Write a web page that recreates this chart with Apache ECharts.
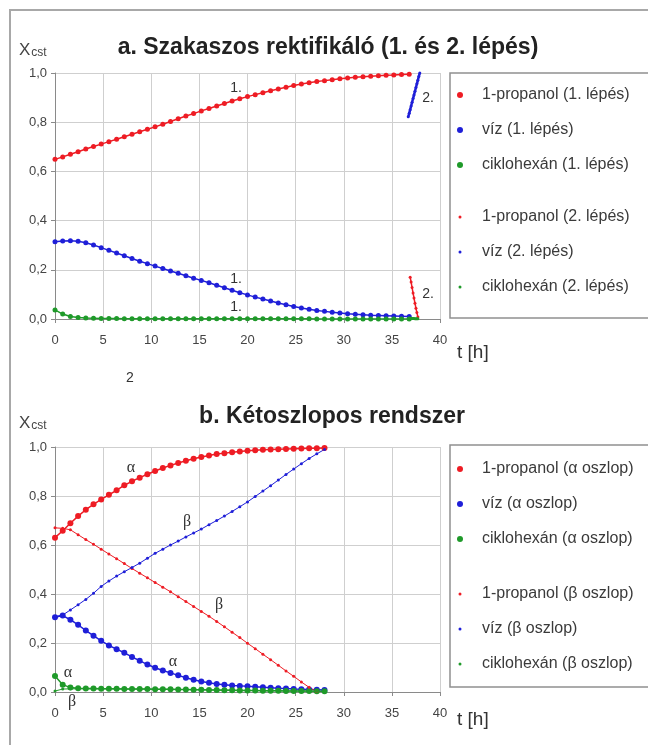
<!DOCTYPE html>
<html>
<head>
<meta charset="utf-8">
<script src="https://cdn.jsdelivr.net/npm/echarts@6/dist/echarts.min.js"></script>
<style>
html,body{margin:0;padding:0;background:#fff;}
#c{width:648px;height:745px;}
</style>
</head>
<body>
<div id="c"></div>
<script>
// ---------- data: chart a (Szakaszos rektifikáló) ----------
var tA1 = [0,0.8,1.6,2.4,3.2,4.0,4.8,5.6,6.4,7.2,8.0,8.8,9.6,10.4,11.2,12.0,12.8,13.6,14.4,15.2,16.0,16.8,17.6,18.4,19.2,20.0,20.8,21.6,22.4,23.2,24.0,24.8,25.6,26.4,27.2,28.0,28.8,29.6,30.4,31.2,32.0,32.8,33.6,34.4,35.2,36.0,36.8];
var propanolA1 = [0.649,0.659,0.670,0.680,0.691,0.701,0.711,0.721,0.731,0.741,0.751,0.761,0.771,0.781,0.792,0.803,0.814,0.825,0.835,0.846,0.856,0.866,0.876,0.886,0.895,0.904,0.912,0.920,0.928,0.935,0.942,0.949,0.955,0.960,0.965,0.969,0.973,0.977,0.980,0.983,0.985,0.987,0.989,0.991,0.992,0.994,0.995];
var vizA1 = [0.314,0.317,0.318,0.316,0.310,0.301,0.290,0.279,0.268,0.257,0.246,0.235,0.225,0.215,0.205,0.195,0.186,0.176,0.166,0.157,0.147,0.137,0.127,0.117,0.107,0.098,0.089,0.081,0.073,0.065,0.058,0.051,0.045,0.040,0.035,0.031,0.027,0.024,0.021,0.019,0.017,0.015,0.014,0.013,0.012,0.011,0.010];
var ciklohexanA1 = [0.037,0.020,0.010,0.006,0.004,0.003,0.002,0.002,0.002,0.001,0.001,0.001,0.001,0.001,0.001,0.001,0.001,0.001,0.001,0.001,0.001,0.001,0.001,0.001,0.001,0.001,0.001,0.001,0.001,0.001,0.001,0.001,0.001,0.001,0.000,0.000,0.000,0.000,0.000,0.000,0.000,0.000,0.000,0.000,0.000,0.000,0.000];
var tA2viz = [36.7,36.8,36.9,37.0,37.1,37.2,37.3,37.4,37.5,37.6,37.7,37.8,37.9];
var vizA2 = [0.822,0.836,0.851,0.866,0.881,0.896,0.911,0.926,0.941,0.956,0.971,0.986,1.000];
var tA2 = [36.9,37.0,37.1,37.2,37.3,37.4,37.5,37.6,37.7];
var propanolA2 = [0.170,0.150,0.128,0.106,0.085,0.064,0.044,0.026,0.008];
var ciklohexanA2 = [0.003,0.003,0.002,0.002,0.002,0.001,0.001,0.001,0.001];

// ---------- data: chart b (Kétoszlopos rendszer) ----------
var tB = [0,0.8,1.6,2.4,3.2,4.0,4.8,5.6,6.4,7.2,8.0,8.8,9.6,10.4,11.2,12.0,12.8,13.6,14.4,15.2,16.0,16.8,17.6,18.4,19.2,20.0,20.8,21.6,22.4,23.2,24.0,24.8,25.6,26.4,27.2,28.0];
var propanolAlfa = [0.630,0.658,0.689,0.718,0.744,0.766,0.786,0.805,0.823,0.844,0.860,0.875,0.889,0.902,0.914,0.925,0.935,0.944,0.952,0.959,0.965,0.971,0.975,0.979,0.982,0.985,0.987,0.989,0.990,0.991,0.992,0.993,0.994,0.995,0.995,0.996];
var vizAlfa = [0.305,0.312,0.295,0.274,0.251,0.230,0.209,0.190,0.175,0.160,0.143,0.128,0.112,0.099,0.088,0.078,0.068,0.058,0.050,0.043,0.038,0.033,0.030,0.027,0.025,0.023,0.021,0.019,0.017,0.015,0.014,0.012,0.011,0.010,0.009,0.008];
var ciklohexanAlfa = [0.065,0.030,0.018,0.015,0.014,0.014,0.013,0.013,0.013,0.012,0.012,0.012,0.012,0.011,0.011,0.011,0.010,0.010,0.009,0.009,0.008,0.008,0.007,0.007,0.006,0.006,0.006,0.005,0.005,0.005,0.004,0.004,0.004,0.004,0.003,0.003];
var propanolBeta = [0.670,0.668,0.662,0.642,0.622,0.603,0.583,0.563,0.544,0.524,0.504,0.485,0.466,0.447,0.428,0.409,0.389,0.369,0.349,0.329,0.309,0.288,0.266,0.244,0.222,0.199,0.177,0.154,0.132,0.109,0.086,0.064,0.041,0.019,0.002];
var vizBeta = [0.308,0.314,0.335,0.356,0.378,0.403,0.431,0.453,0.473,0.491,0.508,0.526,0.546,0.566,0.583,0.600,0.616,0.633,0.649,0.665,0.683,0.700,0.718,0.737,0.756,0.776,0.798,0.820,0.842,0.865,0.888,0.910,0.932,0.953,0.972,0.990];
var ciklohexanBeta = [0.004,0.012,0.013,0.013,0.013,0.013,0.013,0.013,0.012,0.012,0.012,0.012,0.012,0.011,0.011,0.011,0.010,0.010,0.010,0.009,0.009,0.008,0.008,0.007,0.007,0.006,0.006,0.005,0.005,0.005,0.004,0.004,0.004,0.003,0.003,0.003];

var yTicks = [0, 0.2, 0.4, 0.6, 0.8, 1.0];
var xTicks = [0, 5, 10, 15, 20, 25, 30, 35, 40];

var namesA1 = ['1-propanol (1. lépés)', 'víz (1. lépés)', 'ciklohexán (1. lépés)'];
var namesA2 = ['1-propanol (2. lépés)', 'víz (2. lépés)', 'ciklohexán (2. lépés)'];
var namesB1 = ['1-propanol (\u03b1 oszlop)', 'víz (\u03b1 oszlop)', 'ciklohexán (\u03b1 oszlop)'];
var namesB2 = ['1-propanol (\u03b2 oszlop)', 'víz (\u03b2 oszlop)', 'ciklohexán (\u03b2 oszlop)'];

// ---------- styling ----------
var RED = '#ee1c24', BLUE = '#1f1fd8', GREEN = '#1f9a2a';
var FONT = "'Liberation Sans', Arial, sans-serif";
var TXT = '#333';

function zip(t, v) {
  var out = [];
  for (var i = 0; i < Math.min(t.length, v.length); i++) out.push([t[i], v[i]]);
  return out;
}
function ser(name, idx, t, v, color, size, lw) {
  return {
    name: name, type: 'line', xAxisIndex: idx, yAxisIndex: idx,
    data: zip(t, v), symbol: 'circle', symbolSize: size, showSymbol: true,
    itemStyle: {color: color}, lineStyle: {color: color, width: lw},
    emphasis: {disabled: true}, animation: false
  };
}
function xAx(idx) {
  return {
    gridIndex: idx, type: 'value', min: 0, max: 40, interval: 5,
    axisLine: {show: true, onZero: false, lineStyle: {color: '#8a8a8a', width: 1}},
    axisTick: {show: true, length: 4, lineStyle: {color: '#8a8a8a'}},
    axisLabel: {color: '#444', fontSize: 13, fontFamily: FONT, margin: 15,
      formatter: function (v) { return xTicks.indexOf(v) >= 0 ? String(v) : ''; }},
    splitLine: {show: true, lineStyle: {color: '#cfcfcf', width: 1}}
  };
}
function yAx(idx) {
  return {
    gridIndex: idx, type: 'value', min: 0, max: 1, interval: 0.2,
    axisLine: {show: true, lineStyle: {color: '#8a8a8a', width: 1}},
    axisTick: {show: true, length: 4, lineStyle: {color: '#8a8a8a'}},
    axisLabel: {color: '#444', fontSize: 13, fontFamily: FONT, margin: 8,
      formatter: function (v) {
        for (var i = 0; i < yTicks.length; i++) if (Math.abs(yTicks[i] - v) < 1e-9) return yTicks[i].toFixed(1).replace('.', ',');
        return '';
      }},
    splitLine: {show: true, lineStyle: {color: '#cfcfcf', width: 1}}
  };
}
function leg(names, left, top, iconH) {
  return {
    data: names, orient: 'vertical', left: left, top: top, icon: 'circle',
    itemWidth: 34, itemHeight: iconH, itemGap: 17, selectedMode: false,
    textStyle: {color: '#3a3a3a', fontSize: 16, fontFamily: FONT, lineHeight: 18},
    padding: 0
  };
}
function txt(x, y, s, size, family, align) {
  return {type: 'text', x: x, y: y, z: 100,
    style: {text: s, fill: TXT, font: size + 'px ' + (family || FONT), textAlign: align || 'center', textVerticalAlign: 'middle'}};
}
function ylab(x, y) {
  return {type: 'text', x: x, y: y, z: 100,
    style: {text: '{a|X}{b|cst}', textVerticalAlign: 'middle',
      rich: {a: {fontSize: 17, fill: '#444', fontFamily: FONT, verticalAlign: 'bottom'},
             b: {fontSize: 12, fill: '#444', fontFamily: FONT, padding: [6, 0, 0, 1]}}}};
}

var series = [
  ser(namesA1[0], 0, tA1, propanolA1, RED, 5, 1.5),
  ser(namesA1[1], 0, tA1, vizA1, BLUE, 5, 1.5),
  ser(namesA1[2], 0, tA1, ciklohexanA1, GREEN, 5, 1.5),
  ser(namesA2[0], 0, tA2, propanolA2, RED, 3, 1.5),
  ser(namesA2[1], 0, tA2viz, vizA2, BLUE, 3, 2.5),
  ser(namesA2[2], 0, tA2, ciklohexanA2, GREEN, 3, 1.2),
  ser(namesB1[0], 1, tB, propanolAlfa, RED, 6, 1.5),
  ser(namesB1[1], 1, tB, vizAlfa, BLUE, 6, 1.5),
  ser(namesB1[2], 1, tB, ciklohexanAlfa, GREEN, 6, 1.5),
  ser(namesB2[0], 1, tB, propanolBeta, RED, 3, 1),
  ser(namesB2[1], 1, tB, vizBeta, BLUE, 3, 1),
  ser(namesB2[2], 1, tB, ciklohexanBeta, GREEN, 3, 1)
];

var chart = echarts.init(document.getElementById('c'), null, {renderer: 'canvas'});
chart.setOption({
  backgroundColor: '#fff',
  animation: false,
  textStyle: {fontFamily: FONT},
  title: [
    {text: 'a. Szakaszos rektifikáló (1. és 2. lépés)', left: 323, top: 31, textAlign: 'center',
     textStyle: {fontSize: 23, fontWeight: 'bold', color: '#222', fontFamily: FONT}},
    {text: 'b. Kétoszlopos rendszer', left: 327, top: 400, textAlign: 'center',
     textStyle: {fontSize: 23, fontWeight: 'bold', color: '#222', fontFamily: FONT}}
  ],
  grid: [
    {left: 55, top: 73, width: 385, height: 246},
    {left: 55, top: 447, width: 385, height: 245}
  ],
  xAxis: [xAx(0), xAx(1)],
  yAxis: [yAx(0), yAx(1)],
  legend: [
    leg(namesA1, 457, 86, 6), leg(namesA2, 458.5, 208, 3),
    leg(namesB1, 457, 460, 6), leg(namesB2, 458.5, 585, 3)
  ],
  series: series,
  graphic: [
    {type: 'rect', z: 90, shape: {x: 10, y: 10, width: 700, height: 800},
     style: {fill: 'none', stroke: '#a8a8a8', lineWidth: 2}},
    {type: 'rect', z: 90, shape: {x: 450, y: 73, width: 260, height: 245},
     style: {fill: 'none', stroke: '#909090', lineWidth: 1.5}},
    {type: 'rect', z: 90, shape: {x: 450, y: 445, width: 260, height: 242},
     style: {fill: 'none', stroke: '#909090', lineWidth: 1.5}},
    ylab(19, 50), ylab(19, 423),
    txt(457, 353, 't [h]', 19, null, 'left'),
    txt(457, 720, 't [h]', 19, null, 'left'),
    txt(130, 378, '2', 14),
    txt(236, 88, '1.', 14), txt(428, 98, '2.', 14),
    txt(236, 279, '1.', 14), txt(236, 307, '1.', 14), txt(428, 294, '2.', 14),
    txt(131, 468, '\u03b1', 16, "'Liberation Serif', serif"),
    txt(187, 522, '\u03b2', 16, "'Liberation Serif', serif"),
    txt(219, 605, '\u03b2', 16, "'Liberation Serif', serif"),
    txt(173, 662, '\u03b1', 16, "'Liberation Serif', serif"),
    txt(68, 673, '\u03b1', 16, "'Liberation Serif', serif"),
    txt(72, 702, '\u03b2', 16, "'Liberation Serif', serif")
  ]
});
</script>
</body>
</html>
